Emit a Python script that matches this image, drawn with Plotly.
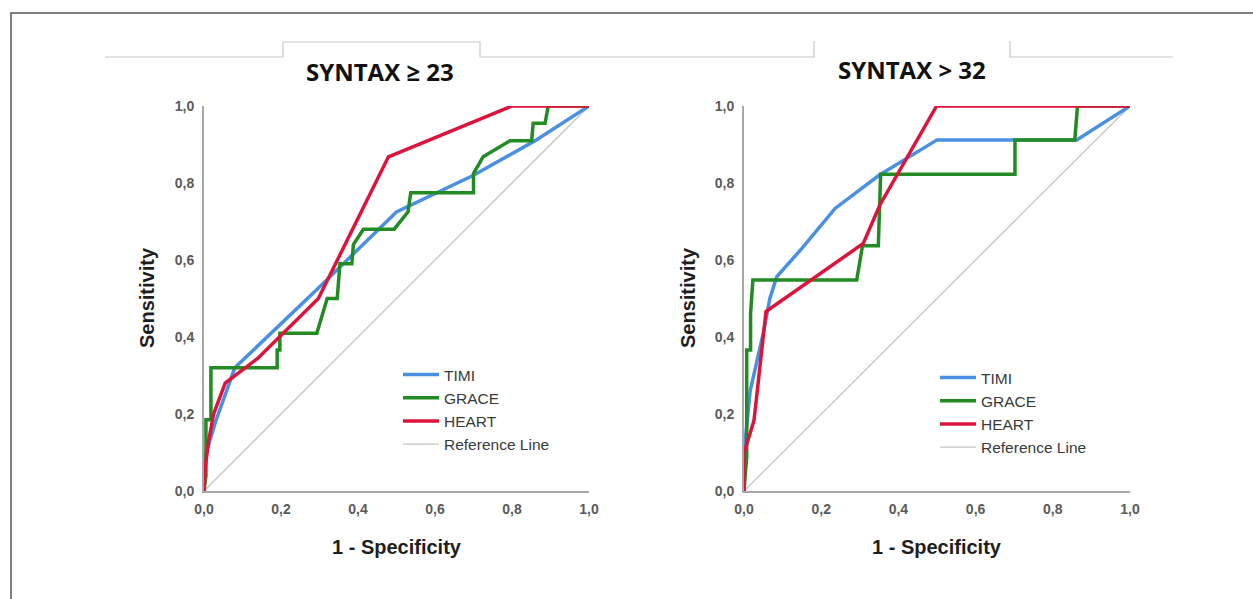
import plotly.graph_objects as go

W, H = 1253, 599

# ---------------- data ----------------
left_timi_x = [0, 0, 0.03, 0.065, 0.08, 0.3, 0.5, 0.7, 0.86, 1.0]
left_timi_y = [0, 0.08, 0.18, 0.28, 0.32, 0.53, 0.725, 0.82, 0.91, 1.0]

left_grace_x = [0, 0.005, 0.005, 0.018, 0.018, 0.19, 0.19, 0.197, 0.197, 0.293, 0.32, 0.346, 0.353, 0.384,
                0.388, 0.414, 0.494, 0.53, 0.537, 0.70, 0.70, 0.725, 0.795, 0.851, 0.855, 0.886, 0.894, 1.0]
left_grace_y = [0, 0.04, 0.185, 0.185, 0.32, 0.32, 0.366, 0.366, 0.41, 0.41, 0.50, 0.50, 0.59, 0.59,
                0.64, 0.68, 0.68, 0.725, 0.775, 0.775, 0.825, 0.868, 0.91, 0.91, 0.955, 0.955, 1.0, 1.0]

left_heart_x = [0, 0.003, 0.012, 0.025, 0.055, 0.14, 0.297, 0.479, 0.80, 1.0]
left_heart_y = [0, 0.06, 0.13, 0.2, 0.28, 0.345, 0.50, 0.868, 1.0, 1.0]

right_timi_x = [0, 0, 0.016, 0.05, 0.067, 0.085, 0.15, 0.236, 0.35, 0.5, 0.862, 1.0]
right_timi_y = [0, 0.1, 0.26, 0.41, 0.5, 0.557, 0.63, 0.734, 0.82, 0.912, 0.912, 1.0]

right_grace_x = [0, 0.007, 0.007, 0.017, 0.017, 0.023, 0.292, 0.307, 0.348, 0.354, 0.702, 0.702, 0.857, 0.864, 1.0]
right_grace_y = [0, 0.089, 0.366, 0.366, 0.46, 0.548, 0.548, 0.637, 0.637, 0.823, 0.823, 0.912, 0.912, 1.0, 1.0]

right_heart_x = [0, 0, 0.026, 0.057, 0.309, 0.352, 0.499, 1.0]
right_heart_y = [0, 0.098, 0.184, 0.466, 0.643, 0.743, 1.0, 1.0]

ref_x = [0, 1]
ref_y = [0, 1]

tick_vals = [0, 0.2, 0.4, 0.6, 0.8, 1.0]
tick_text = ["0,0", "0,2", "0,4", "0,6", "0,8", "1,0"]

titles = ["SYNTAX ≥ 23", "SYNTAX > 32"]
series_names = ["TIMI", "GRACE", "HEART", "Reference Line"]

# ---------------- style ----------------
C_TIMI = "#4a90e2"
C_GRACE = "#238b23"
C_HEART = "#dc143c"
C_REF = "#c4c4c4"
LW = 3.5


def px_x(p):
    return p / W


def px_y(p):
    return 1 - p / H


fig = go.Figure()

panels = [
    dict(xa="x", ya="y", legend="legend",
         data=[(left_timi_x, left_timi_y), (left_grace_x, left_grace_y), (left_heart_x, left_heart_y)]),
    dict(xa="x2", ya="y2", legend="legend2",
         data=[(right_timi_x, right_timi_y), (right_grace_x, right_grace_y), (right_heart_x, right_heart_y)]),
]

colors = [C_TIMI, C_GRACE, C_HEART]
for p in panels:
    fig.add_trace(go.Scatter(x=ref_x, y=ref_y, mode="lines", name=series_names[3],
                             line=dict(color=C_REF, width=1.3), legendrank=4,
                             xaxis=p["xa"], yaxis=p["ya"], legend=p["legend"],
                             cliponaxis=False, hoverinfo="skip"))
    for i, ((xs, ys), name, col) in enumerate(zip(p["data"], series_names[:3], colors)):
        fig.add_trace(go.Scatter(x=xs, y=ys, mode="lines", name=name,
                                 line=dict(color=col, width=LW), legendrank=i + 1,
                                 xaxis=p["xa"], yaxis=p["ya"], legend=p["legend"],
                                 cliponaxis=False, hoverinfo="skip"))

tick_font = dict(family="Liberation Sans, Arial", size=14, color="#5a5a5a", weight="bold")
axis_common = dict(range=[0, 1], tickvals=tick_vals, ticktext=tick_text, showgrid=False,
                   zeroline=False, showline=True, linecolor="#a8a8a8", linewidth=2, automargin=False,
                   ticks="outside", tickcolor="rgba(0,0,0,0)", tickfont=tick_font, fixedrange=True)

y_dom = [px_y(491), px_y(106)]
legend_font = dict(family="Liberation Sans, Arial", size=15.5, color="#3a3a3a")
fig.update_layout(
    width=W, height=H,
    margin=dict(l=0, r=0, t=0, b=0, pad=0),
    paper_bgcolor="white", plot_bgcolor="white",
    xaxis=dict(domain=[px_x(204), px_x(589)], anchor="y", ticklen=4, **axis_common),
    yaxis=dict(domain=y_dom, anchor="x", ticklen=5, **axis_common),
    xaxis2=dict(domain=[px_x(744), px_x(1130)], anchor="y2", ticklen=4, **axis_common),
    yaxis2=dict(domain=y_dom, anchor="x2", ticklen=5, **axis_common),
    legend=dict(x=px_x(398), y=px_y(358), xanchor="left", yanchor="top", itemwidth=36,
                bgcolor="rgba(0,0,0,0)", borderwidth=0, traceorder="normal", font=legend_font),
    legend2=dict(x=px_x(935), y=px_y(361), xanchor="left", yanchor="top", itemwidth=36,
                 bgcolor="rgba(0,0,0,0)", borderwidth=0, traceorder="normal", font=legend_font),
    showlegend=True,
)

# frame and tab lines
shapes = [
    dict(type="rect", xref="paper", yref="paper", x0=px_x(11), x1=1.05, y0=-0.05, y1=px_y(13),
         line=dict(color="#555555", width=1.5), fillcolor="rgba(0,0,0,0)", layer="below"),
    dict(type="path", xref="paper", yref="paper",
         path=f"M {px_x(105)},{px_y(57)} L {px_x(283)},{px_y(57)} L {px_x(283)},{px_y(42)} "
              f"L {px_x(480)},{px_y(42)} L {px_x(480)},{px_y(57)} L {px_x(814)},{px_y(57)} L {px_x(814)},{px_y(41)}",
         line=dict(color="#c8c8c8", width=1.2)),
    dict(type="path", xref="paper", yref="paper",
         path=f"M {px_x(1010)},{px_y(41)} L {px_x(1010)},{px_y(57)} L {px_x(1173)},{px_y(57)}",
         line=dict(color="#c8c8c8", width=1.2)),
]
fig.update_layout(shapes=shapes)

title_font = dict(family="Open Sans", size=24, color="#111111", weight="bold")
label_font = dict(family="Liberation Sans, Arial", size=20, color="#1e1e1e", weight="bold")
annotations = [
    dict(text=titles[0], x=px_x(380), y=px_y(72), xref="paper", yref="paper", showarrow=False,
         font=title_font, xanchor="center", yanchor="middle"),
    dict(text=titles[1], x=px_x(912), y=px_y(70), xref="paper", yref="paper", showarrow=False,
         font=title_font, xanchor="center", yanchor="middle"),
    dict(text="Sensitivity", x=px_x(147), y=px_y(298), xref="paper", yref="paper", showarrow=False,
         font=label_font, textangle=-90, xanchor="center", yanchor="middle"),
    dict(text="Sensitivity", x=px_x(688), y=px_y(298), xref="paper", yref="paper", showarrow=False,
         font=label_font, textangle=-90, xanchor="center", yanchor="middle"),
    dict(text="1 - Specificity", x=px_x(397), y=px_y(547), xref="paper", yref="paper", showarrow=False,
         font=label_font, xanchor="center", yanchor="middle"),
    dict(text="1 - Specificity", x=px_x(937), y=px_y(547), xref="paper", yref="paper", showarrow=False,
         font=label_font, xanchor="center", yanchor="middle"),
]
fig.update_layout(annotations=annotations)

fig.write_html("out.html", config={"displayModeBar": False},
               post_script="document.body.style.margin='0';document.body.style.overflow='hidden';")
